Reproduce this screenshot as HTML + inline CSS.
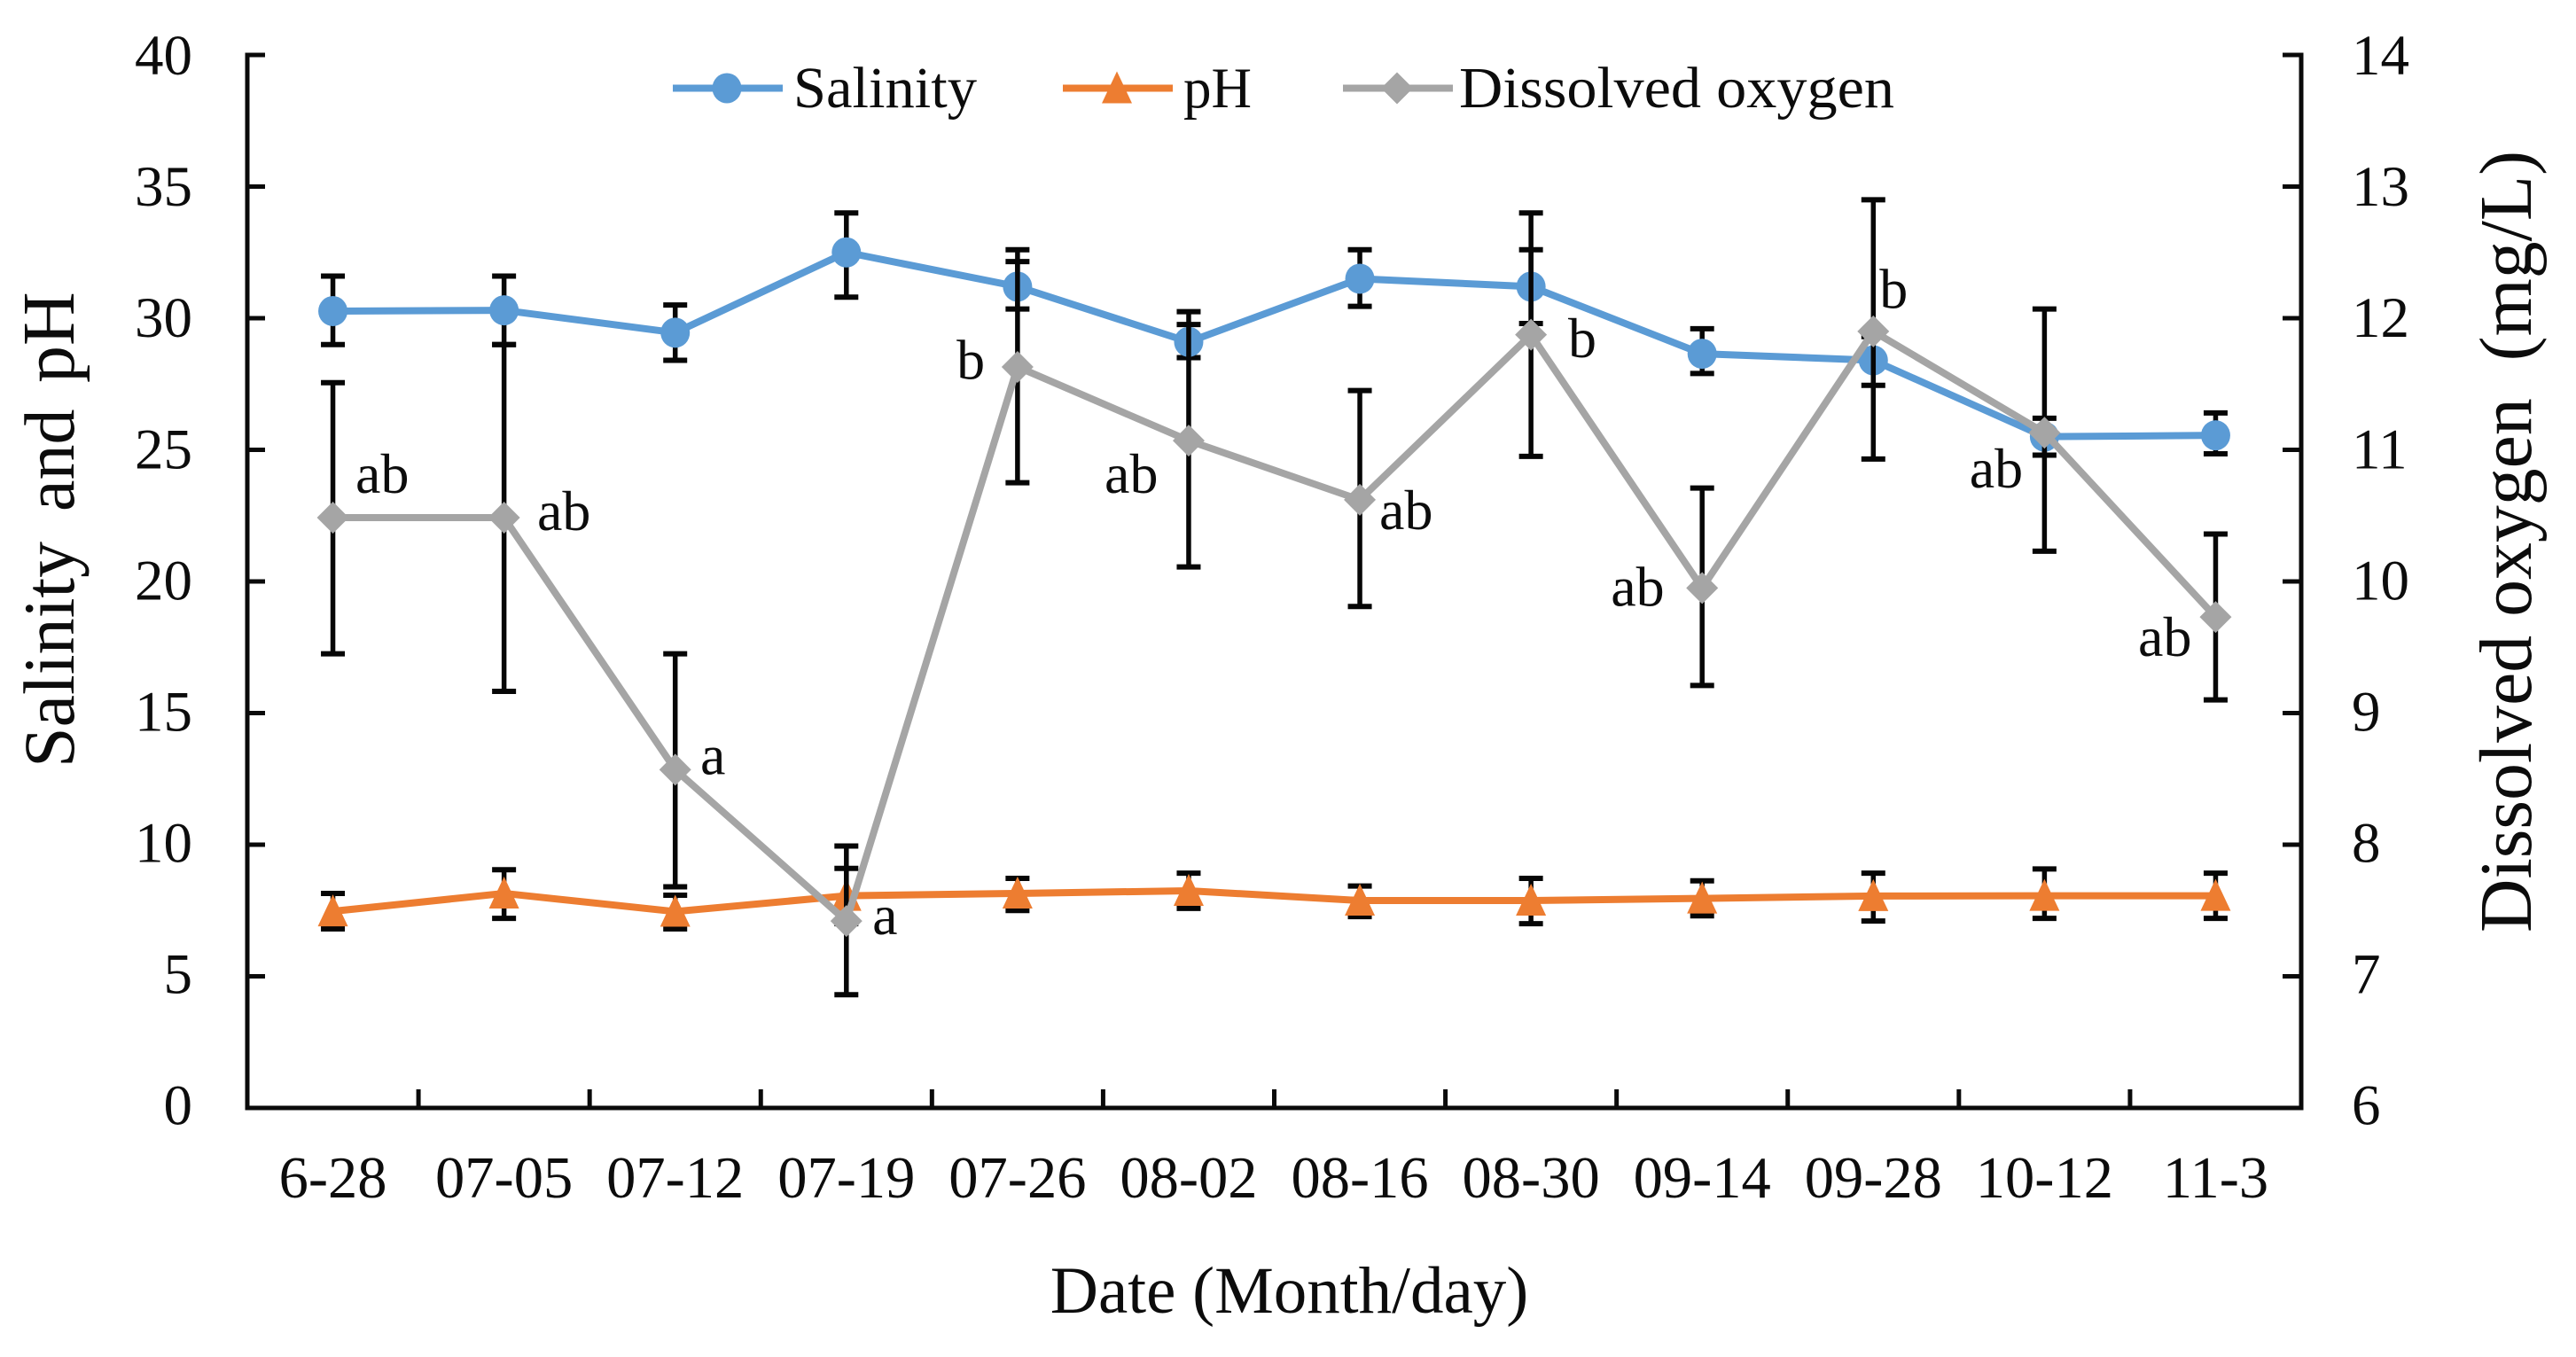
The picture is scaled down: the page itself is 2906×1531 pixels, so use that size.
<!DOCTYPE html>
<html lang="en">
<head>
<meta charset="utf-8">
<title>Salinity, pH and dissolved oxygen by date</title>
<style>
  html, body { margin: 0; padding: 0; background: #fff; }
  svg { display: block; }
  text { font-family: "Liberation Serif", "Times New Roman", serif; fill: #0c0c0c; white-space: pre; }
</style>
</head>
<body>
<svg id="chart" xmlns="http://www.w3.org/2000/svg" width="2906" height="1531" viewBox="0 0 2906 1531">
  <rect x="0" y="0" width="2906" height="1531" fill="#ffffff"/>
</svg>
<script>
const categories = ['6-28','07-05','07-12','07-19','07-26','08-02','08-16','08-30','09-14','09-28','10-12','11-3'];
const leftTicks = [0,5,10,15,20,25,30,35,40];
const rightTicks = [6,7,8,9,10,11,12,13,14];

const salinity = [30.27,30.3,29.45,32.5,31.2,29.1,31.5,31.2,28.65,28.4,25.5,25.55];
const salinityHigh = [31.6,31.6,30.5,34.0,32.15,29.76,32.6,32.6,29.6,29.3,26.2,26.4];
const salinityLow = [29.0,29.0,28.4,30.8,30.35,28.5,30.45,29.8,27.9,27.45,24.8,24.85];

const ph = [7.47,8.15,7.46,8.06,8.15,8.25,7.88,7.88,7.96,8.05,8.06,8.06];
const phHigh = [8.15,9.05,8.08,9.1,8.72,8.92,8.43,8.72,8.63,8.92,9.08,8.92];
const phLow = [6.8,7.2,6.8,7.0,7.5,7.58,7.27,7.0,7.3,7.1,7.2,7.2];

const oxygen = [10.485,10.485,8.57,7.42,11.63,11.07,10.62,11.875,9.95,11.9,11.13,9.73];
const oxygenHigh = [11.51,11.8,9.45,7.99,12.52,12.05,11.45,12.8,10.71,12.9,12.07,10.36];
const oxygenLow = [9.45,9.165,7.68,6.86,10.75,10.11,9.81,10.95,9.21,10.93,10.23,9.1];

const significance = ['ab','ab','a','a','b','ab','ab','b','ab','b','ab','ab'];

/* Layout only: where each significance letter sits relative to its oxygen point */
const letterOffsetX = [25.5,37.4,28.3,29.3,-68.8,-94.9,22,41.9,-103,7,-84.6,-87.4];
const letterOffsetY = [-28,14,5,15,13.5,59,33,25.5,20,-26.5,62,44];

const plot = { left: 279, right: 2596, top: 62, bottom: 1250 };
const leftMax = 40, leftMin = 0, rightMax = 14, rightMin = 6;
const svg = document.getElementById('chart');
const NS = 'http://www.w3.org/2000/svg';

function xAt(i) {
  return plot.left + (plot.right - plot.left) * (i + 0.5) / categories.length;
}
function xEdge(i) {
  return plot.left + (plot.right - plot.left) * i / categories.length;
}
function yLeft(v) {
  return plot.bottom - (v - leftMin) / (leftMax - leftMin) * (plot.bottom - plot.top);
}
function yRight(v) {
  return plot.bottom - (v - rightMin) / (rightMax - rightMin) * (plot.bottom - plot.top);
}
function shape(tag, attrs, parent) {
  const el = document.createElementNS(NS, tag);
  for (const k in attrs) el.setAttribute(k, attrs[k]);
  (parent || svg).appendChild(el);
  return el;
}
function line(x1, y1, x2, y2, color, width, parent) {
  return shape('line', { x1: x1, y1: y1, x2: x2, y2: y2, stroke: color, 'stroke-width': width }, parent);
}
function label(str, x, y, size, anchor, parent) {
  const el = shape('text', { x: x, y: y, 'font-size': size, 'text-anchor': anchor || 'start' }, parent);
  el.textContent = str;
  return el;
}

/* Axes */
const axisColor = '#0a0a0a';
const axesGroup = shape('g', {});



const leftAxis = line(plot.left, plot.top - 2.5, plot.left, plot.bottom + 2.5, axisColor, 5, axesGroup);



const rightAxis = line(plot.right, plot.top - 2.5, plot.right, plot.bottom + 2.5, axisColor, 5, axesGroup);



const bottomAxis = line(plot.left - 2, plot.bottom, plot.right + 2, plot.bottom, axisColor, 5, axesGroup);



leftTicks.forEach(function (v) {
  const y = yLeft(v);
  if (v !== leftMin) {
    const t = line(plot.left, y, plot.left + 20, y, axisColor, 5, axesGroup);
    
    
  }
  const l = label(String(v), 217, y + 18.5 + v * 0.09, 65, 'end', axesGroup);
  
  
});

rightTicks.forEach(function (v) {
  const y = yRight(v);
  if (v !== rightMin) {
    const t = line(plot.right - 21, y, plot.right, y, axisColor, 5, axesGroup);
    
    
  }
  const l = label(String(v), 2653, y + 18.5 + (v - rightMin) * 0.45, 65, 'start', axesGroup);
  
  
});

for (let i = 1; i < categories.length; i++) {
  const t = line(xEdge(i), plot.bottom - 21, xEdge(i), plot.bottom, axisColor, 5, axesGroup);
  
  
}

categories.forEach(function (c, i) {
  const l = label(c, xAt(i), 1351, 66.5, 'middle', axesGroup);
  
  
});

/* Axis titles */
const xTitle = label('Date (Month/day)', 1454.5, 1481, 75, 'middle');



const leftTitle = shape('g', { transform: 'translate(83,866) rotate(-90)' });


label('Salinity', 0, 0, 82, 'start', leftTitle);
label('and', 289, 0, 80, 'start', leftTitle);
label('pH', 434, 0, 84, 'start', leftTitle);

const rightTitle = label('Dissolved oxygen  (mg/L)', 0, 0, 84, 'start');
rightTitle.setAttribute('transform', 'translate(2855,1052) rotate(-90)');
rightTitle.setAttribute('textLength', '882');
rightTitle.setAttribute('lengthAdjust', 'spacingAndGlyphs');



/* Markers */
function circleMarker(cx, cy, color, parent) {
  return shape('ellipse', { cx: cx, cy: cy, rx: 16.5, ry: 17, fill: color }, parent);
}
function triangleMarker(cx, cy, color, parent) {
  const pts = [[cx, cy - 19], [cx + 17, cy + 17], [cx - 17, cy + 17]].map(function (p) { return p.join(','); }).join(' ');
  return shape('polygon', { points: pts, fill: color }, parent);
}
function diamondMarker(cx, cy, color, parent) {
  const pts = [[cx, cy - 18], [cx + 18, cy], [cx, cy + 18], [cx - 18, cy]].map(function (p) { return p.join(','); }).join(' ');
  return shape('polygon', { points: pts, fill: color }, parent);
}

/* Series: error bars first, then line, then markers, in stacking order */
function drawSeries(key, values, highs, lows, yFn, color, marker) {
  const group = shape('g', {});
  
  

  values.forEach(function (v, i) {
    const x = xAt(i);
    const yTop = yFn(highs[i]);
    const yBot = yFn(lows[i]);
    const bar = shape('g', {}, group);
    
    
    line(x, yTop, x, yBot, '#060606', 5.5, bar);
    line(x - 13.5, yTop, x + 13.5, yTop, '#060606', 6, bar);
    line(x - 13.5, yBot, x + 13.5, yBot, '#060606', 6, bar);
  });

  const pts = values.map(function (v, i) { return xAt(i) + ',' + yFn(v); }).join(' ');
  const path = shape('polyline', { points: pts, fill: 'none', stroke: color, 'stroke-width': 8, 'stroke-linejoin': 'round' }, group);
  
  

  values.forEach(function (v, i) {
    const m = marker(xAt(i), yFn(v), color, group);
    
    
  });
}

const salinityColor = '#5b9bd5';
const phColor = '#ed7d31';
const oxygenColor = '#a5a5a5';

drawSeries('salinity', salinity, salinityHigh, salinityLow, yLeft, salinityColor, circleMarker);
drawSeries('ph', ph, phHigh, phLow, yLeft, phColor, triangleMarker);
drawSeries('dissolved-oxygen', oxygen, oxygenHigh, oxygenLow, yRight, oxygenColor, diamondMarker);

/* Significance letters */
significance.forEach(function (s, i) {
  const l = label(s, xAt(i) + letterOffsetX[i], yRight(oxygen[i]) + letterOffsetY[i], 64, 'start');
  
  
});

/* Legend */
const legendGroup = shape('g', {});



const legendY = 99.5;

const salinityEntry = shape('g', {}, legendGroup);


line(759, legendY, 883, legendY, salinityColor, 8, salinityEntry);
circleMarker(820, legendY, salinityColor, salinityEntry);
const salinityLegendText = label('Salinity', 895, 121, 66, 'start', salinityEntry);
salinityLegendText.setAttribute('textLength', '207');
salinityLegendText.setAttribute('lengthAdjust', 'spacingAndGlyphs');

const phEntry = shape('g', {}, legendGroup);


line(1199, legendY, 1323, legendY, phColor, 8, phEntry);
triangleMarker(1260, legendY, phColor, phEntry);
const phLegendText = label('pH', 1335, 121, 65, 'start', phEntry);
phLegendText.setAttribute('textLength', '77');
phLegendText.setAttribute('lengthAdjust', 'spacingAndGlyphs');

const oxygenEntry = shape('g', {}, legendGroup);


line(1515, legendY, 1639, legendY, oxygenColor, 8, oxygenEntry);
diamondMarker(1576, legendY, oxygenColor, oxygenEntry);
const oxygenLegendText = label('Dissolved oxygen', 1646, 121, 66, 'start', oxygenEntry);
oxygenLegendText.setAttribute('textLength', '491');
oxygenLegendText.setAttribute('lengthAdjust', 'spacingAndGlyphs');
</script>
</body>
</html>
